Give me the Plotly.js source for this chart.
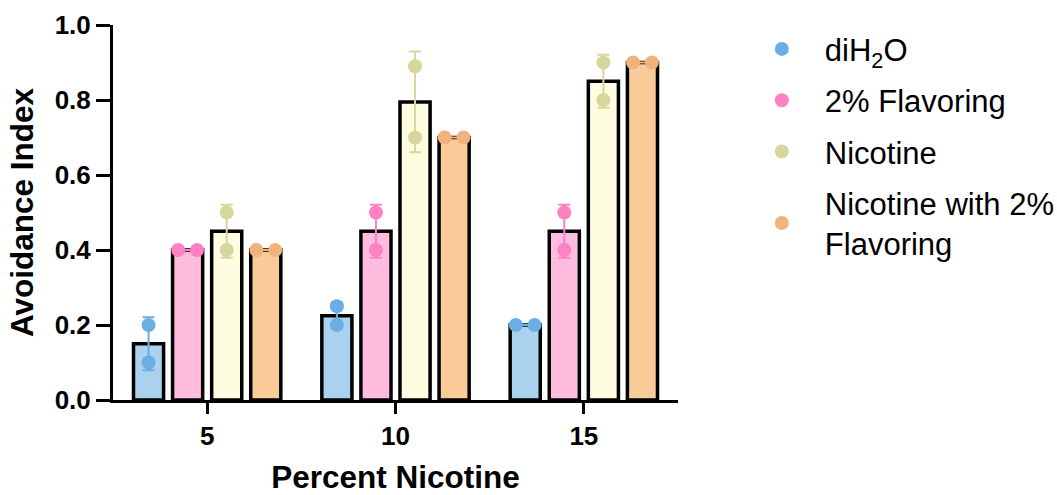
<!DOCTYPE html>
<html>
<head>
<meta charset="utf-8">
<script src="https://cdn.plot.ly/plotly-3.0.1.min.js"></script>
<style>html,body{margin:0;padding:0;background:#fff;}#chart{width:1057px;height:495px;}</style>
</head>
<body>
<div id="chart"></div>
<script>
// ---- data ----
var categories = ['5', '10', '15'];
var seriesNames = ['diH<sub>2</sub>O', '2% Flavoring', 'Nicotine', 'Nicotine with 2%<br>Flavoring'];
var diH2O_rep1 = [0.20, 0.25, 0.20];
var diH2O_rep2 = [0.10, 0.20, 0.20];
var flavoring_rep1 = [0.40, 0.50, 0.50];
var flavoring_rep2 = [0.40, 0.40, 0.40];
var nicotine_rep1 = [0.50, 0.89, 0.90];
var nicotine_rep2 = [0.40, 0.70, 0.80];
var nicFlav_rep1 = [0.40, 0.70, 0.90];
var nicFlav_rep2 = [0.40, 0.70, 0.90];

var barColors = ['#AAD2EE', '#FFBCDE', '#FFFDE1', '#F9CB99'];
var pointColors = ['#6AAEE5', '#FF80C3', '#D7D69D', '#F1B37B'];

var reps = [[diH2O_rep1, diH2O_rep2], [flavoring_rep1, flavoring_rep2], [nicotine_rep1, nicotine_rep2], [nicFlav_rep1, nicFlav_rep2]];

var bargap = 0.17, bargroupgap = 0.23;
var nS = reps.length;
var slot = (1 - bargap) / nS;
var catIdx = categories.map(function (c, i) { return i; });

var traces = [];
reps.forEach(function (r, s) {
  var means = catIdx.map(function (i) { return (r[0][i] + r[1][i]) / 2; });
  var sds = catIdx.map(function (i) {
    var m = means[i];
    return Math.sqrt(((r[0][i] - m) * (r[0][i] - m) + (r[1][i] - m) * (r[1][i] - m)) / 1);
  });
  traces.push({
    type: 'bar', x: catIdx, y: means, showlegend: false, hoverinfo: 'skip',
    marker: { color: barColors[s], line: { color: '#000', width: 3.5 } },
    error_y: { type: 'data', array: sds, visible: true, color: pointColors[s], thickness: 2, width: 6 }
  });
});
reps.forEach(function (r, s) {
  var off = -(1 - bargap) / 2 + (s + 0.5) * slot;
  var xs = [], ys = [];
  catIdx.forEach(function (i) {
    var same = Math.abs(r[0][i] - r[1][i]) < 1e-9;
    var j = same ? 0.05 : 0;
    xs.push(i + off - j); ys.push(r[0][i]);
    xs.push(i + off + j); ys.push(r[1][i]);
  });
  traces.push({
    type: 'scatter', mode: 'markers', x: xs, y: ys, name: seriesNames[s],
    legendgroup: 'g' + s, cliponaxis: false,
    marker: { color: pointColors[s], size: 14 }
  });
});

var font = 'Arial, "Liberation Sans", sans-serif';
var layout = {
  width: 1057, height: 495,
  margin: { l: 113, r: 379, t: 25, b: 95 },
  paper_bgcolor: '#fff', plot_bgcolor: '#fff',
  barmode: 'group', bargap: bargap, bargroupgap: bargroupgap,
  font: { family: font, color: '#000' },
  xaxis: {
    range: [-0.5, 2.5], tickvals: catIdx, ticktext: categories,
    showgrid: false, zeroline: false, showline: true, linecolor: '#000', linewidth: 3,
    ticks: 'outside', ticklen: 11, tickwidth: 3, tickcolor: '#000',
    tickfont: { size: 26, weight: 'bold', family: font },
    title: { text: 'Percent Nicotine', font: { size: 31.5, weight: 'bold', family: font }, standoff: 25 }
  },
  yaxis: {
    range: [0, 1], dtick: 0.2, tick0: 0, tickformat: '.1f',
    showgrid: false, zeroline: false, showline: true, linecolor: '#000', linewidth: 3,
    ticks: 'outside', ticklen: 14, tickwidth: 3, tickcolor: '#000',
    tickfont: { size: 26, weight: 'bold', family: font },
    title: { text: 'Avoidance Index', font: { size: 31.5, weight: 'bold', family: font }, standoff: 12 }
  },
  legend: {
    xref: 'container', yref: 'container',
    x: 0.699, y: 0.955, xanchor: 'left', yanchor: 'top',
    font: { size: 31, family: font }, traceorder: 'grouped', tracegroupgap: 8,
    itemwidth: 76, bgcolor: 'rgba(0,0,0,0)'
  },
  showlegend: true
};

Plotly.newPlot('chart', traces, layout, { displayModeBar: false, staticPlot: true });
</script>
</body>
</html>
